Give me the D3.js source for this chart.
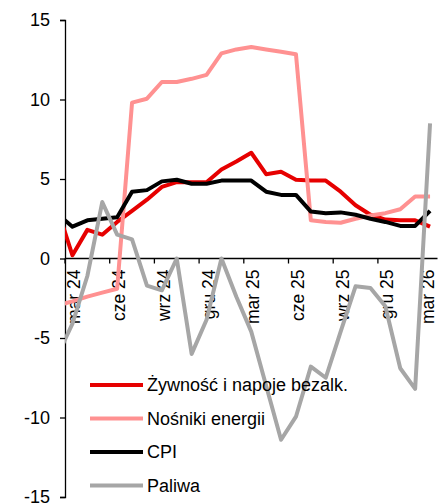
<!DOCTYPE html>
<html>
<head>
<meta charset="utf-8">
<script src="https://cdn.jsdelivr.net/npm/d3@7"></script>
<style>
  html, body { margin: 0; padding: 0; background: #fff; }
  svg { display: block; font-family: Arial, "Liberation Sans", sans-serif; }
</style>
</head>
<body>
<div id="chart"></div>
<script>
// months (first one, lut 24, sits left of the plot and is clipped)
var months = ["lut 24","mar 24","kwi 24","maj 24","cze 24","lip 24","sie 24","wrz 24","paź 24","lis 24","gru 24",
              "sty 25","lut 25","mar 25","kwi 25","maj 25","cze 25","lip 25","sie 25","wrz 25","paź 25","lis 25","gru 25",
              "sty 26","lut 26","mar 26"];
var tickLabels = ["mar 24","cze 24","wrz 24","gru 24","mar 25","cze 25","wrz 25","gru 25","mar 26"];

var food   = [3.1, 0.2, 1.8, 1.5, 2.3, 3.0, 3.7, 4.5, 4.8, 4.8, 4.8, 5.6, 6.1, 6.65, 5.3, 5.45, 4.95, 4.9, 4.9, 4.2, 3.35, 2.75, 2.45, 2.4, 2.4, 2.0];
var energy = [-2.95, -2.7, -2.4, -2.15, -1.9, 9.8, 10.05, 11.1, 11.1, 11.3, 11.55, 12.9, 13.15, 13.3, 13.15, 13.0, 12.85, 2.4, 2.3, 2.25, 2.5, 2.7, 2.85, 3.1, 3.9, 3.9];
var cpi    = [2.8, 2.0, 2.4, 2.5, 2.6, 4.2, 4.3, 4.85, 4.95, 4.7, 4.7, 4.9, 4.9, 4.9, 4.2, 4.0, 4.0, 2.95, 2.85, 2.9, 2.75, 2.5, 2.3, 2.05, 2.05, 3.0];
var fuel   = [-6.1, -4.1, -1.1, 3.55, 1.5, 1.2, -1.7, -2.0, 0.0, -6.0, -3.85, 0.0, -2.4, -4.6, -8.0, -11.4, -9.95, -6.8, -7.5, -4.6, -1.75, -1.85, -3.0, -6.9, -8.2, 8.5];

var seriesNames  = ["Żywność i napoje bezalk.", "Nośniki energii", "CPI", "Paliwa"];
var seriesColors = ["#e60000", "#ff9191", "#000000", "#a6a6a6"];
var yTicks = [-15, -10, -5, 0, 5, 10, 15];

var width = 441, height = 504,
    plotLeft = 65, plotRight = 437.5, plotTop = 20, plotBottom = 497;

var svg = d3.select("#chart").append("svg")
    .attr("width", width)
    .attr("height", height);

// index 0 = lut 24, category centres every month
var x = d3.scaleLinear().domain([0.5, months.length - 0.5]).range([plotLeft, plotRight]);
var y = d3.scaleLinear().domain([-15, 15]).range([plotBottom, plotTop]);

svg.append("clipPath").attr("id", "plot")
  .append("rect")
    .attr("x", plotLeft).attr("y", 0)
    .attr("width", plotRight - plotLeft).attr("height", height);

// y axis
var yAxis = svg.append("g")
    .attr("transform", "translate(" + plotLeft + ",0)")
    .call(d3.axisLeft(y).tickValues(yTicks).tickSize(5).tickPadding(10).tickFormat(d3.format("d")));
yAxis.select(".domain").attr("stroke", "#000").attr("stroke-width", 1.3);
yAxis.selectAll(".tick line").attr("stroke", "#000").attr("stroke-width", 1.3);
yAxis.selectAll(".tick text")
    .attr("font-size", 18)
    .attr("font-family", "Arial, 'Liberation Sans', sans-serif")
    .attr("fill", "#000")
    .text(function(d) { return d < 0 ? "-" + Math.abs(d) : d; });

// x axis at zero
var x0 = y(0);
svg.append("line")
    .attr("x1", plotLeft).attr("x2", plotRight)
    .attr("y1", x0).attr("y2", x0)
    .attr("stroke", "#000").attr("stroke-width", 1.3);

var tickIdx = tickLabels.map(function(l) { return months.indexOf(l); });
svg.selectAll(".xtick")
  .data(tickIdx)
  .enter().append("line")
    .attr("class", "xtick")
    .attr("x1", function(i) { return x(i - 0.5); })
    .attr("x2", function(i) { return x(i - 0.5); })
    .attr("y1", x0).attr("y2", x0 + 5)
    .attr("stroke", "#000").attr("stroke-width", 1.3);

svg.selectAll(".xlabel")
  .data(tickIdx)
  .enter().append("text")
    .attr("class", "xlabel")
    .attr("transform", function(i) {
        var px = Math.min(x(i) + 8, 434);
        return "translate(" + px + "," + (x0 + 11) + ") rotate(-90)";
    })
    .attr("text-anchor", "end")
    .attr("font-size", 17.5)
    .attr("fill", "#000")
    .text(function(i) { return months[i]; });

// series
var allSeries = [food, energy, cpi, fuel];
var line = d3.line()
    .x(function(d, i) { return x(i); })
    .y(function(d) { return y(d); });

svg.append("g").attr("clip-path", "url(#plot)")
  .selectAll("path")
  .data(allSeries)
  .enter().append("path")
    .attr("d", line)
    .attr("fill", "none")
    .attr("stroke", function(d, i) { return seriesColors[i]; })
    .attr("stroke-width", 4)
    .attr("stroke-linejoin", "round");

// legend
var legend = svg.selectAll(".legend")
  .data(seriesNames)
  .enter().append("g")
    .attr("class", "legend")
    .attr("transform", function(d, i) { return "translate(90," + (385 + i * 33.5) + ")"; });

legend.append("line")
    .attr("x1", 0).attr("x2", 53)
    .attr("stroke", function(d, i) { return seriesColors[i]; })
    .attr("stroke-width", 4);

legend.append("text")
    .attr("x", 57)
    .attr("dy", "0.35em")
    .attr("font-size", 18)
    .attr("fill", "#000")
    .text(function(d) { return d; });
</script>
</body>
</html>
